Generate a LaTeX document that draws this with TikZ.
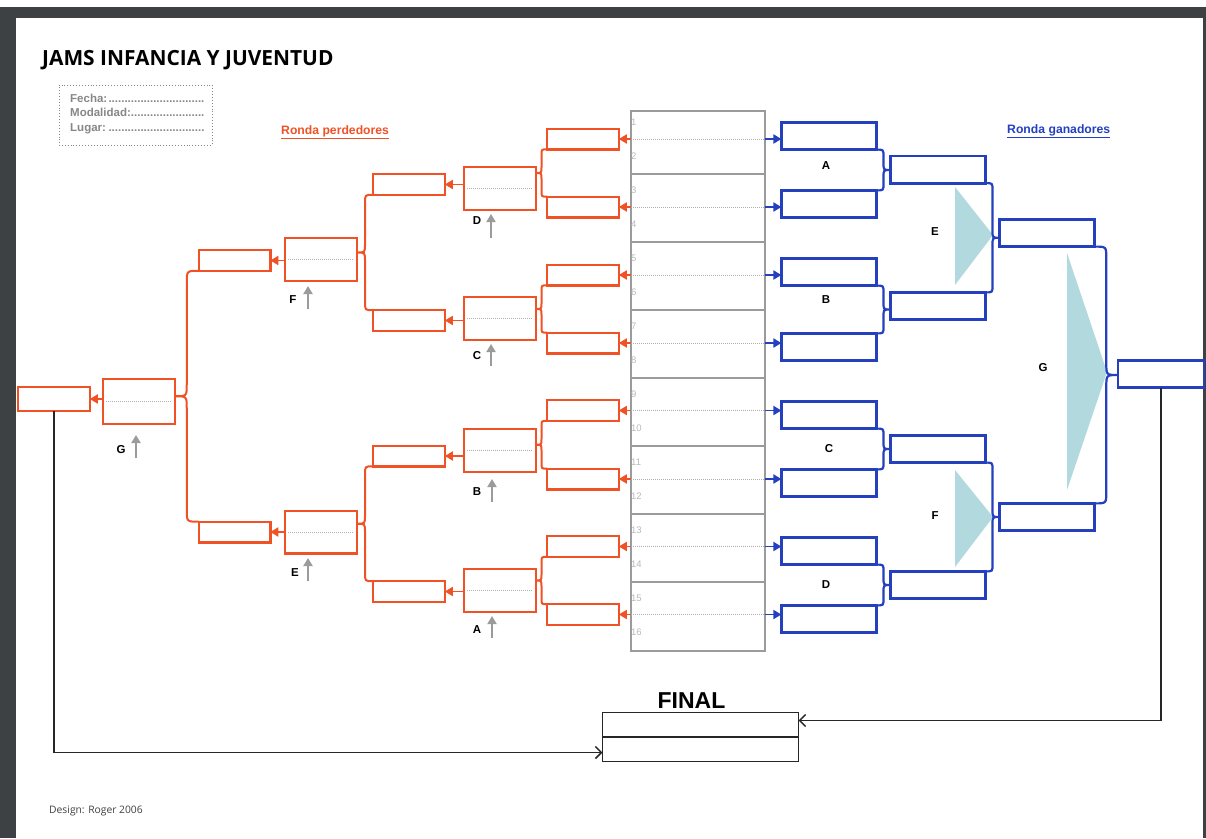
\documentclass[tikz,border=0pt]{standalone}
\usepackage{fontspec}
\setmainfont{Liberation Sans}
\newfontfamily\osans{Open Sans}
\usetikzlibrary{arrows.meta,calc}
\definecolor{ored}{RGB}{240,82,38}
\definecolor{bblue}{RGB}{36,64,190}
\definecolor{tealc}{RGB}{178,218,222}
\definecolor{colgray}{RGB}{155,155,155}
\definecolor{numgray}{RGB}{185,185,185}
\definecolor{framec}{RGB}{62,65,68}
\definecolor{infogray}{RGB}{135,135,135}
\newcommand\fs[1]{\fontsize{#1}{#1}\selectfont}
\newcommand\mybrace[4]{%
  \draw[#1] let \p1=(#2), \p2=(#3), \p3=(#4),
    \n1={(\x1+\x3)/2}, \n2={(\y1+\y2)/2}, \n3={abs(\x3-\x1)/2} in
  (\x1,\y1) .. controls (\n1,\y1) .. (\n1,{\y1-\n3}) -- (\n1,{\n2+\n3})
  .. controls (\n1,\n2) .. (\x3,\n2) .. controls (\n1,\n2) .. (\n1,{\n2-\n3})
  -- (\n1,{\y2+\n3}) .. controls (\n1,\y2) .. (\x2,\y2);}
\tikzset{
  obox/.style={draw=ored, line width=2.4pt, minimum width=71.6pt, minimum height=20.6pt, inner sep=0pt, outer sep=0pt},
  obig/.style={obox, minimum height=42.6pt},
  bbox/.style={draw=bblue, line width=2.8pt, minimum width=95.2pt, minimum height=27.2pt, inner sep=0pt, outer sep=0pt},
  dotl/.style={draw=colgray!80, line width=0.8pt, dash pattern=on 0.8pt off 1.2pt},
  oarr/.style={draw=ored, line width=1.8pt, -{Triangle[length=8pt,width=9pt]}},
  barr/.style={draw=bblue, line width=1.8pt, -{Triangle[length=8pt,width=9pt]}},
  garr/.style={draw=colgray, line width=1.8pt, -{Triangle[length=8pt,width=9pt]}},
  obr/.style={draw=ored, line width=2pt},
  bbr/.style={draw=bblue, line width=2.2pt},
  lab/.style={font=\bfseries\fs{11.5}, inner sep=0pt},
  num/.style={font=\fs{9.5}, text=numgray, inner sep=0pt, anchor=west},
  finbox/.style={draw=black!85, line width=1.3pt, minimum width=196pt, minimum height=24pt, inner sep=0pt, outer sep=0pt},
  finl/.style={draw=black!85, line width=1.5pt, -{Straight Barb[length=6pt,width=12pt]}},
  info/.style={anchor=base west, inner sep=0pt, font=\bfseries\fs{11.5}, text=infogray},
}
\begin{document}
\begin{tikzpicture}[x=1pt,y=-1pt]
\useasboundingbox (0,0) rectangle (1206,838);
\fill[white] (0,0) rectangle (1206,838);
\fill[framec] (0,7) rectangle (1206,18);
\fill[framec] (0,7) rectangle (16,838);
\fill[framec] (1203,18) rectangle (1206,838);

% title and info
\node[anchor=base west, inner sep=0pt, font=\osans\bfseries\fs{20.9}] (title) at (42,65) {JAMS INFANCIA Y JUVENTUD};
\node[draw=infogray, dotted, line width=0.9pt, minimum width=153pt, minimum height=60pt, inner sep=0pt, anchor=north west] (infobox) at (58.5,84.5) {};
\node[info] (fecha) at (70,102) {\makebox[136pt][l]{Fecha:\leaders\hbox{.}\hfill}};
\node[info] (modal) at (70,116.5) {\makebox[136pt][l]{Modalidad:\leaders\hbox{.}\hfill}};
\node[info] (lugar) at (70,131) {\makebox[136pt][l]{Lugar:\leaders\hbox{.}\hfill}};
\node[anchor=base west, inner sep=0pt, font=\bfseries\fs{12.2}, text=ored] (rp) at (281,134) {\underline{Ronda perdedores}};
\node[anchor=base west, inner sep=0pt, font=\bfseries\fs{12.2}, text=bblue] (rg) at (1007,133) {\underline{Ronda ganadores}};
\node[anchor=base west, inner sep=0pt, font=\osans\fs{10.3}, text=black!75] (design) at (49,813) {Design: Roger 2006};

% centre column
\node[draw=colgray, line width=2.4pt, minimum width=134pt, minimum height=540pt, inner sep=0pt, outer sep=0pt] (col) at (698,381) {};
\foreach \y in {174,242,310,378,446,514,582}
  \draw[colgray, line width=1.8pt] (col.west |- 0,\y) -- (col.east |- 0,\y);

% teal triangles
\fill[tealc] (955,187) -- (955,285) -- (993,235) -- cycle;
\fill[tealc] (955,470) -- (955,567) -- (993,517) -- cycle;
\fill[tealc] (1067,253) -- (1067,490) -- (1107,372) -- cycle;

% loser round (orange)
\foreach \i/\y in {1/139,2/207,3/275,4/343,5/410.5,6/479,7/546.5,8/614.5}
  \node[obox] (o\i) at (583,\y) {};
\node[obig] (oD) at (500,188.5) {};
\node[obig] (oC) at (500,318.5) {};
\node[obig] (oB) at (500,450.5) {};
\node[obig] (oA) at (500,590.5) {};
\node[obox] (s1) at (409,184.5) {};
\node[obox] (s2) at (409,320.5) {};
\node[obox] (s3) at (409,456) {};
\node[obox] (s4) at (409,591.5) {};
\node[obig] (oF) at (321,259.5) {};
\node[obig] (oE) at (321,532) {};
\node[obox] (t1) at (234.5,260.5) {};
\node[obox] (t2) at (234.5,532) {};
\node[obig, minimum height=44.6pt] (oG) at (139,401.5) {};
\node[obox, minimum height=23.6pt] (wl) at (54,399) {};

\foreach \b in {oD,oC,oB,oA,oF,oE,oG}
  \draw[dotl] ([xshift=3pt]\b.west) -- ([xshift=-3pt]\b.east);

\draw[oarr] (oD.west |- s1.east) -- (s1.east);
\draw[oarr] (oC.west |- s2.east) -- (s2.east);
\draw[oarr] (oB.west |- s3.east) -- (s3.east);
\draw[oarr] (oA.west |- s4.east) -- (s4.east);
\draw[oarr] (oF.west |- t1.east) -- (t1.east);
\draw[oarr] (oE.west |- t2.east) -- (t2.east);
\draw[oarr] (oG.west |- wl.east) -- (wl.east);

\mybrace{obr}{o1.south west}{o2.north west}{oD.east}
\mybrace{obr}{o3.south west}{o4.north west}{oC.east}
\mybrace{obr}{o5.south west}{o6.north west}{oB.east}
\mybrace{obr}{o7.south west}{o8.north west}{oA.east}
\mybrace{obr}{s1.south west}{s2.north west}{oF.east}
\mybrace{obr}{s3.south west}{s4.north west}{oE.east}
\mybrace{obr}{t1.south west}{t2.north west}{oG.east}

% gray up arrows and labels (loser side)
\draw[garr] (491,238) -- (491,214); \node[lab] (lD) at (477,221) {D};
\draw[garr] (491,366) -- (491,344); \node[lab] (lC) at (477,356) {C};
\draw[garr] (492,502) -- (492,479); \node[lab] (lB) at (477,492) {B};
\draw[garr] (492,638) -- (492,616); \node[lab] (lA) at (477,630) {A};
\draw[garr] (308,309) -- (308,286); \node[lab] (lF) at (293,300) {F};
\draw[garr] (308,581) -- (308,558); \node[lab] (lE) at (295,573) {E};
\draw[garr] (136,458) -- (136,435); \node[lab] (lG) at (121,450) {G};

% winner round (blue)
\foreach \i/\y in {1/136,2/204,3/272,4/347,5/415,6/483,7/551,8/619}
  \node[bbox] (b\i) at (829,\y) {};
\node[bbox] (c1) at (938,169.5) {};
\node[bbox] (c2) at (938,306) {};
\node[bbox] (c3) at (938,449) {};
\node[bbox] (c4) at (938,585) {};
\node[bbox] (d1) at (1047,233) {};
\node[bbox] (d2) at (1047,517) {};
\node[bbox, minimum width=86pt] (wr) at (1161,374) {};

\mybrace{bbr}{b1.south east}{b2.north east}{c1.west}
\mybrace{bbr}{b3.south east}{b4.north east}{c2.west}
\mybrace{bbr}{b5.south east}{b6.north east}{c3.west}
\mybrace{bbr}{b7.south east}{b8.north east}{c4.west}
\mybrace{bbr}{c1.south east}{c2.north east}{d1.west}
\mybrace{bbr}{c3.south east}{c4.north east}{d2.west}
\mybrace{bbr}{d1.south east}{d2.north east}{wr.west}

\node[lab] (wA) at (826,166) {A};
\node[lab] (wB) at (826,300) {B};
\node[lab] (wC) at (829,449) {C};
\node[lab] (wD) at (826,585) {D};
\node[lab] (wE) at (935,232) {E};
\node[lab] (wF) at (935,516) {F};
\node[lab] (wG) at (1043,368) {G};

% dotted links, arrows and numbers in the centre column
\foreach \i/\y [evaluate=\i as \na using int(2*\i-1), evaluate=\i as \nb using int(2*\i)] in {1/139,2/207,3/275,4/343,5/411,6/479,7/547,8/615} {
  \draw[dotl] (col.west |- o\i) -- (col.east |- o\i);
  \draw[oarr] (col.west |- o\i) -- (o\i.east);
  \draw[barr] (col.east |- o\i) -- (b\i.west |- o\i);
  \node[num] at (631,\y-17) {\na};
  \node[num] at (631,\y+17) {\nb};
}

% final
\node[anchor=base, inner sep=0pt, font=\bfseries\fs{23}] (fintitle) at (691.5,708) {FINAL};
\node[finbox] (f1) at (700.5,724.5) {};
\node[finbox] (f2) at (700.5,749.5) {};
\draw[finl] (wl.south) |- ([yshift=-3pt]f2.west);
\draw[finl] (wr.south) |- ([yshift=4pt]f1.east);
\end{tikzpicture}
\end{document}
